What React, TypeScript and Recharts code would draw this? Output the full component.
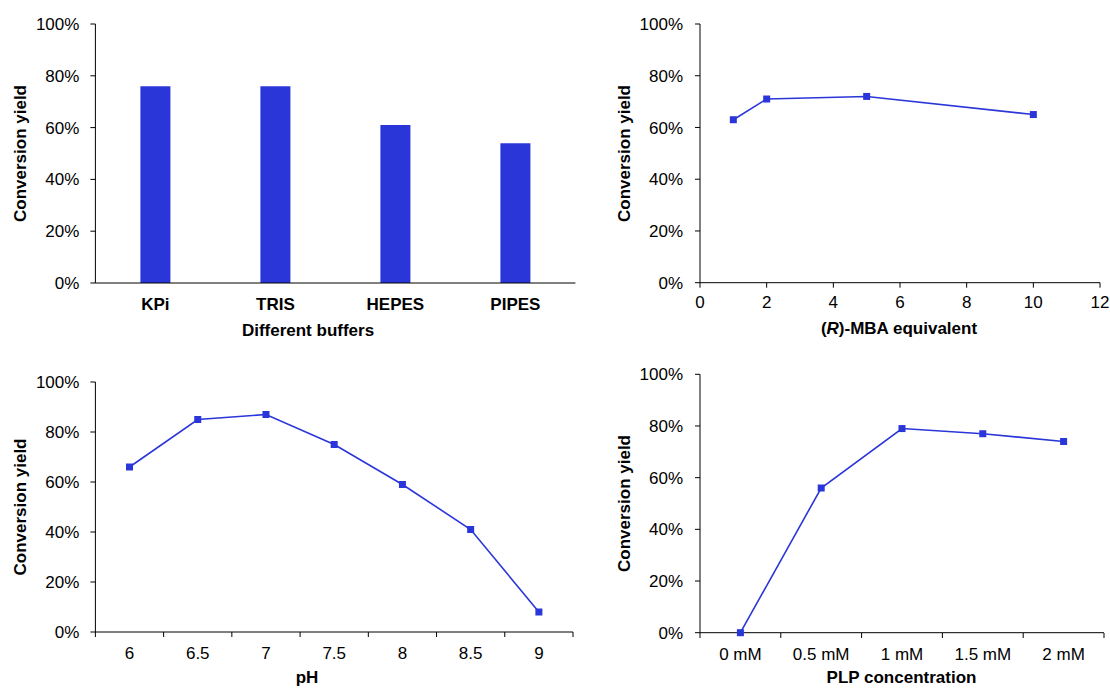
import React from 'react'
import { BarChart, Bar, LineChart, Line, XAxis, YAxis, Label } from 'recharts'

// data
const buffers = ['KPi', 'TRIS', 'HEPES', 'PIPES']
const bufferYield = [76, 76, 61, 54]

const mbaEquiv = [1, 2, 5, 10]
const mbaYield = [63, 71, 72, 65]
const mbaTicks = [0, 2, 4, 6, 8, 10, 12]

const phValues = [6, 6.5, 7, 7.5, 8, 8.5, 9]
const phYield = [66, 85, 87, 75, 59, 41, 8]

const plpConc = [0, 0.5, 1, 1.5, 2]
const plpYield = [0, 56, 79, 77, 74]

const yTicks = [0, 20, 40, 60, 80, 100]

const BLUE = '#2B36D9'
const FONT = '"Liberation Sans", Arial, sans-serif'
const tickStyle = { fontSize: 17, fontFamily: FONT, fill: '#000' }
const titleStyle = { fontSize: 17, fontFamily: FONT, fontWeight: 700, fill: '#000' }

const bufferData = buffers.map((name, i) => ({ name, value: bufferYield[i] }))
const mbaData = mbaEquiv.map((x, i) => ({ x, value: mbaYield[i] }))
const phData = phValues.map((x, i) => ({ x, value: phYield[i] }))
const plpData = plpConc.map((x, i) => ({ x, value: plpYield[i] }))

const pct = (v: number) => `${v}%`

// axis title drawn at a fixed spot inside the chart svg
const title = (cx: number, cy: number, node: React.ReactNode, vertical = false) => () => (
  <text
    x={cx}
    y={cy}
    textAnchor="middle"
    dominantBaseline="central"
    transform={vertical ? `rotate(-90 ${cx} ${cy})` : undefined}
    style={titleStyle}
  >
    {node}
  </text>
)

const SquareDot = (props: any) => {
  const { cx, cy, index } = props
  if (cx == null || cy == null) return null
  return <rect key={`dot-${index}`} x={cx - 3.5} y={cy - 3.5} width={7} height={7} fill={BLUE} />
}

// Excel-like category ticks: marks between categories, label in the middle
const bandTick = (half: number, count: number, fmt: (v: any) => string) => (props: any) => {
  const { x, y, payload, index } = props
  const axisY = y - 15
  return (
    <g>
      <line x1={x - half} x2={x - half} y1={axisY} y2={axisY + 5} stroke="#000" />
      {index === count - 1 && <line x1={x + half} x2={x + half} y1={axisY} y2={axisY + 5} stroke="#000" />}
      <text x={x} y={y} dy="0.71em" textAnchor="middle" style={tickStyle}>
        {fmt(payload.value)}
      </text>
    </g>
  )
}

const yAxisProps = {
  domain: [0, 100] as [number, number],
  ticks: yTicks,
  tickFormatter: pct,
  tick: tickStyle,
  tickSize: 5,
  width: 60,
  interval: 0 as const,
  axisLine: { stroke: '#000' },
  tickLine: { stroke: '#000' },
}

export default function App() {
  return (
    <div style={{ position: 'absolute', left: 0, top: 0, width: 1110, height: 689, background: '#fff' }}>
      {/* buffers */}
      <div style={{ position: 'absolute', left: 0, top: 0 }}>
        <BarChart width={580} height={345} data={bufferData} margin={{ top: 24, right: 4.6, left: 35.4, bottom: 0 }}>
          <XAxis
            dataKey="name"
            height={62}
            tickLine={false}
            tickSize={5}
            tickMargin={10}
            interval={0}
            axisLine={{ stroke: '#000' }}
            tick={{ ...tickStyle, fontWeight: 700 }}
          >
            <Label content={title(308, 330, 'Different buffers')} />
          </XAxis>
          <YAxis {...yAxisProps} tickMargin={11}>
            <Label content={title(20.4, 153.5, 'Conversion yield', true)} />
          </YAxis>
          <Bar dataKey="value" fill={BLUE} barSize={30} isAnimationActive={false} />
        </BarChart>
      </div>

      {/* (R)-MBA */}
      <div style={{ position: 'absolute', left: 560, top: 0 }}>
        <LineChart width={550} height={345} data={mbaData} margin={{ top: 24, right: 10, left: 80, bottom: 0 }}>
          <XAxis
            dataKey="x"
            type="number"
            domain={[0, 12]}
            ticks={mbaTicks}
            height={62.3}
            tickSize={5}
            tickMargin={8.3}
            interval={0}
            axisLine={{ stroke: '#000' }}
            tickLine={{ stroke: '#000' }}
            tick={tickStyle}
          >
            <Label
              content={title(339, 328, (
                <>
                  (<tspan fontStyle="italic">R</tspan>)-MBA equivalent
                </>
              ))}
            />
          </XAxis>
          <YAxis {...yAxisProps} tickMargin={12}>
            <Label content={title(64.8, 153.5, 'Conversion yield', true)} />
          </YAxis>
          <Line
            dataKey="value"
            stroke={BLUE}
            strokeWidth={1.6}
            dot={SquareDot}
            activeDot={false}
            isAnimationActive={false}
          />
        </LineChart>
      </div>

      {/* pH */}
      <div style={{ position: 'absolute', left: 0, top: 345 }}>
        <LineChart width={580} height={344} data={phData} margin={{ top: 37, right: 7, left: 35.4, bottom: 0 }}>
          <XAxis
            dataKey="x"
            type="number"
            domain={[5.75, 9.25]}
            ticks={phValues}
            height={57}
            tickLine={false}
            tickSize={5}
            tickMargin={10}
            interval={0}
            axisLine={{ stroke: '#000' }}
            tick={bandTick(477.6 / 7 / 2, phValues.length, (v) => String(v))}
          >
            <Label content={title(307, 332.5, 'pH')} />
          </XAxis>
          <YAxis {...yAxisProps} tickMargin={11}>
            <Label content={title(20.4, 162, 'Conversion yield', true)} />
          </YAxis>
          <Line
            dataKey="value"
            stroke={BLUE}
            strokeWidth={1.6}
            dot={SquareDot}
            activeDot={false}
            isAnimationActive={false}
          />
        </LineChart>
      </div>

      {/* PLP */}
      <div style={{ position: 'absolute', left: 560, top: 345 }}>
        <LineChart width={550} height={344} data={plpData} margin={{ top: 29.3, right: 6, left: 80, bottom: 0 }}>
          <XAxis
            dataKey="x"
            type="number"
            domain={[-0.25, 2.25]}
            ticks={plpConc}
            height={56.3}
            tickLine={false}
            tickSize={5}
            tickMargin={10.3}
            interval={0}
            axisLine={{ stroke: '#000' }}
            tick={bandTick(404 / 5 / 2, plpConc.length, (v) => `${v} mM`)}
          >
            <Label content={title(341.5, 332, 'PLP concentration')} />
          </XAxis>
          <YAxis {...yAxisProps} tickMargin={12}>
            <Label content={title(64.8, 158.5, 'Conversion yield', true)} />
          </YAxis>
          <Line
            dataKey="value"
            stroke={BLUE}
            strokeWidth={1.6}
            dot={SquareDot}
            activeDot={false}
            isAnimationActive={false}
          />
        </LineChart>
      </div>
    </div>
  )
}
